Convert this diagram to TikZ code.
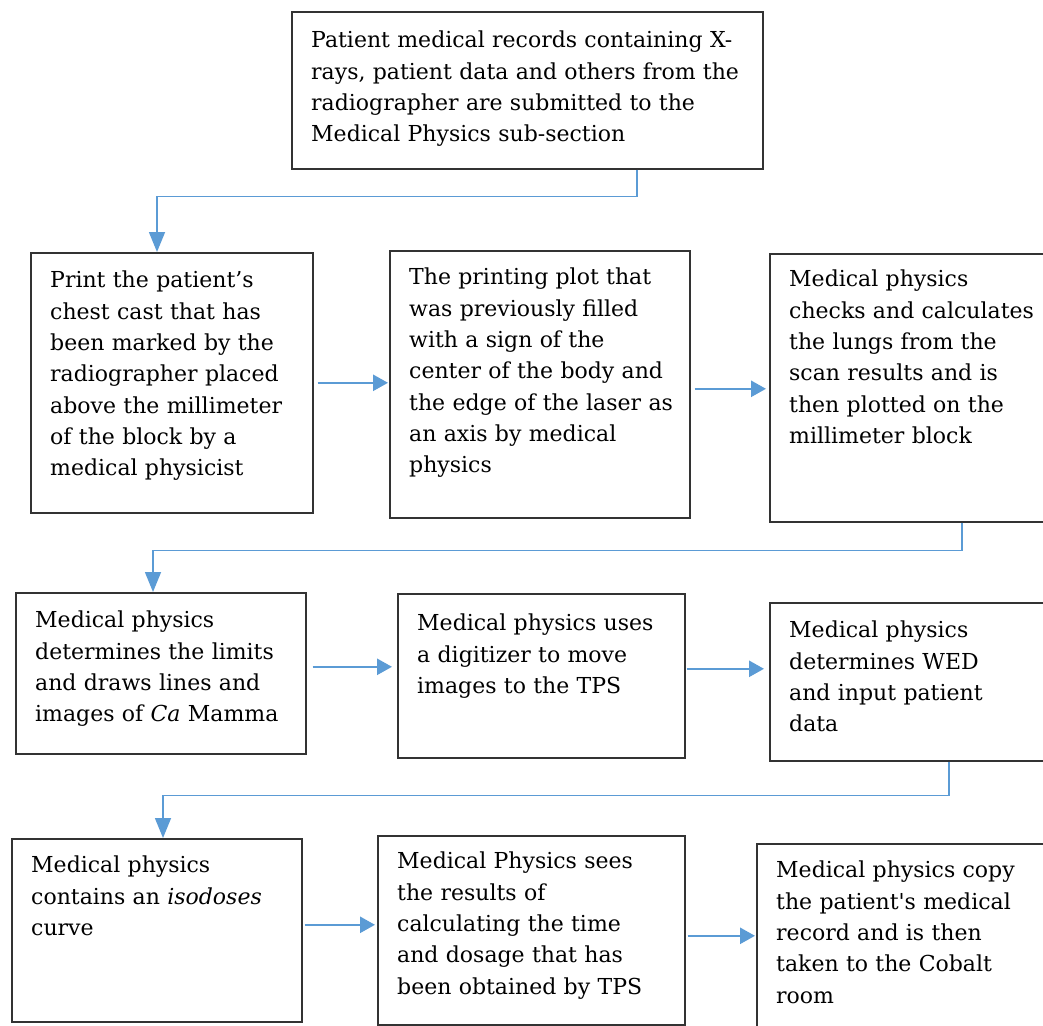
\documentclass[tikz,border=0pt]{standalone}
\usepackage{fontspec}
\setmainfont{DejaVu Serif}
\newfontfamily\rawfont{DejaVu Serif}
\usetikzlibrary{arrows.meta}
\definecolor{arrowblue}{HTML}{5B9BD5}
\tikzset{
  box/.style={draw=black!80, line width=1.6pt, fill=none, inner sep=0pt, anchor=north west},
  txt/.style={anchor=north west, inner sep=0pt, align=left, font=\fontsize{22}{31.3}\selectfont, text width=560pt},
  harrow/.style={draw=arrowblue, line width=2.6pt, -{Triangle[length=15pt,width=16pt]}},
  elbow/.style={draw=arrowblue, line width=1.5pt, -{Triangle[length=20pt,width=16pt]}},
}
\newcommand\procbox[7]{%
  \node[box, minimum width=#4pt, minimum height=#5pt] (#1) at (#2,-#3) {};
  \node[txt] (#1t) at ([shift={(20pt,-#6pt)}]#1.north west) {#7};
}
\begin{document}
\begin{tikzpicture}[x=1pt,y=1pt]
\useasboundingbox (0,0) rectangle (1043,-1025);
\fill[white] (0,0) rectangle (1043,-1025);
\procbox{T}{291}{11}{471}{157}{20}{Patient medical records containing X-\\rays, patient data and others from the\\radiographer are submitted to the\\Medical Physics sub-section}
\procbox{A}{30}{252}{282}{260}{19}{Print the patient’s\\chest cast that has\\been marked by the\\radiographer placed\\above the millimeter\\of the block by a\\medical physicist}
\procbox{B}{389}{250}{300}{267}{18}{The printing plot that\\was previously filled\\with a sign of the\\center of the body and\\the edge of the laser as\\an axis by medical\\physics}
\procbox{C}{769}{253}{300}{268}{17}{Medical physics\\checks and calculates\\the lungs from the\\scan results and is\\then plotted on the\\millimeter block}
\procbox{D}{15}{592}{290}{161}{19}{Medical physics\\determines the limits\\and draws lines and\\images of \textit{Ca} Mamma}
\procbox{E}{397}{593}{287}{164}{21}{Medical physics uses\\a digitizer to move\\images to the TPS}
\procbox{F}{769}{602}{300}{158}{19}{Medical physics\\determines WED\\and input patient\\data}
\procbox{G}{11}{838}{290}{183}{18}{Medical physics\\contains an \textit{isodoses}\\curve}
\procbox{H}{377}{835}{307}{189}{17}{Medical Physics sees\\the results of\\calculating the time\\and dosage that has\\been obtained by TPS}
\procbox{I}{756}{843}{300}{200}{18}{Medical physics copy\\the patient{\rawfont '}s medical\\record and is then\\taken to the Cobalt\\room}
% elbow connectors
\draw[elbow] ([xshift=346pt]T.south west) -- ++(0,-27) -| ([xshift=127pt]A.north west);
\draw[elbow] ([xshift=193pt]C.south west) -- ++(0,-28) -| ([xshift=138pt]D.north west);
\draw[elbow] ([xshift=180pt]F.south west) -- ++(0,-34) -| ([xshift=152pt]G.north west);
% horizontal arrows
\draw[harrow] ([xshift=4pt]A.east) -- ([xshift=-1pt]A.east -| B.west);
\draw[harrow] ([shift={(4pt,-4.5pt)}]B.east) -- ([shift={(-3pt,-4.5pt)}]B.east -| C.west);
\draw[harrow] ([shift={(6pt,6.5pt)}]D.east) -- ([shift={(-5pt,6.5pt)}]D.east -| E.west);
\draw[harrow] ([shift={(1pt,7pt)}]E.east) -- ([shift={(-5pt,7pt)}]E.east -| F.west);
\draw[harrow] ([shift={(2pt,5.5pt)}]G.east) -- ([shift={(-2pt,5.5pt)}]G.east -| H.west);
\draw[harrow] ([shift={(2pt,-5.5pt)}]H.east) -- ([shift={(-1pt,-5.5pt)}]H.east -| I.west);
\end{tikzpicture}
\end{document}
